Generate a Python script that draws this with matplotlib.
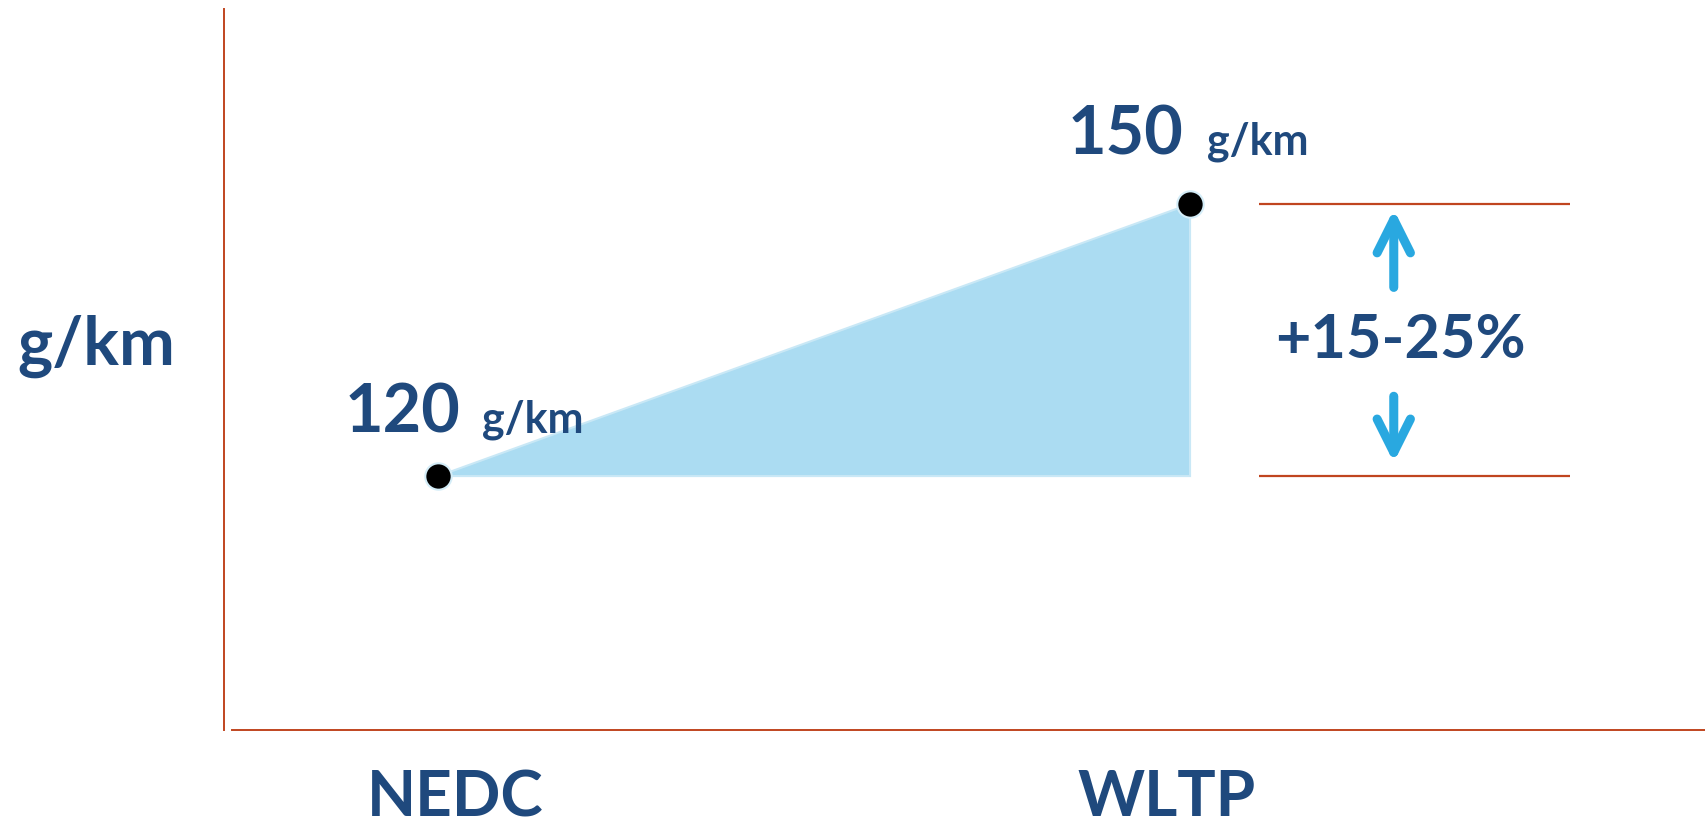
import numpy as np
import matplotlib.pyplot as plt

# data
categories = ['NEDC', 'WLTP']
values = [120, 150]          # g/km
unit = 'g/km'
change_label = '+15-25%'

navy = '#1F497D'
rust = '#C0451F'
sky = '#ABDCF2'
arrowblue = '#29A8E0'
wt = 'bold'
plt.rcParams['font.family'] = ['Lato', 'DejaVu Sans']

fig = plt.figure(figsize=(17.05, 8.24), dpi=100)
# axes from x=224px to right edge, y=9px to 730px
ax = fig.add_axes([224/1705, 1-730/824, 1-224/1705, (730-9)/824])

xs = np.arange(len(categories))
ax.set_xlim(-0.285, 1.685)
ax.set_ylim(92, 171.5)

# shaded rise between the two points
ax.fill([xs[0], xs[1], xs[1]], [values[0], values[1], values[0]],
        color=sky, edgecolor='#C9E8F6', linewidth=1.5, zorder=1)
ax.plot(xs, values, 'o', markersize=19, color='black',
        markeredgecolor='#D4EDF8', markeredgewidth=1.5, zorder=3)

# value labels
offs = [(22, 44, 44), (-7, 49, 17)]
for x, v, (dxr, dy, dxl) in zip(xs, values, offs):
    ax.annotate(str(v), (x, v), xytext=(dxr*0.72, dy*0.72), textcoords='offset points',
                ha='right', va='baseline', fontsize=48, color=navy, fontweight=wt)
    ax.annotate(unit, (x, v), xytext=(dxl*0.72, dy*0.72), textcoords='offset points',
                ha='left', va='baseline', fontsize=31, color=navy, fontweight=wt)

# reference lines at both levels on the right
xr = [1.092, 1.505]
for v in values:
    ax.plot(xr, [v, v], color=rust, linewidth=1.6, solid_capstyle='butt')

# arrows and percentage text
xa = 1.271
style = '->,head_length=0.6,head_width=0.3'
ax.annotate('', xy=(xa, 149.4), xytext=(xa, 140.8),
            arrowprops=dict(arrowstyle=style, color=arrowblue, lw=6.5,
                            shrinkA=0, shrinkB=0, mutation_scale=40))
ax.annotate('', xy=(xa, 121.5), xytext=(xa, 128.8),
            arrowprops=dict(arrowstyle=style, color=arrowblue, lw=6.5,
                            shrinkA=0, shrinkB=0, mutation_scale=40))
ax.text(1.280, (values[0] + values[1]) / 2, change_label, ha='center', va='center',
        fontsize=44, color=navy, fontweight=wt)

# category labels under the axis
for x, c, dx in zip(xs, categories, [17, -23]):
    ax.annotate(c, (x, 0), xycoords=('data', 'axes fraction'), xytext=(dx*0.72, -68*0.72),
                textcoords='offset points', ha='center', va='center',
                fontsize=46, color=navy, fontweight=wt)

fig.text(17/1705, 1-365/824, unit, ha='left', va='baseline', fontsize=48,
         color=navy, fontweight=wt)

for s in ['top', 'right']:
    ax.spines[s].set_visible(False)
ax.spines['left'].set_color(rust)
ax.spines['bottom'].set_color(rust)
ax.spines['left'].set_linewidth(1.4)
ax.spines['bottom'].set_linewidth(1.4)
ax.spines['bottom'].set_bounds(-0.274, 1.685)
ax.set_xticks([])
ax.set_yticks([])

fig.savefig('out.png', dpi=100)
